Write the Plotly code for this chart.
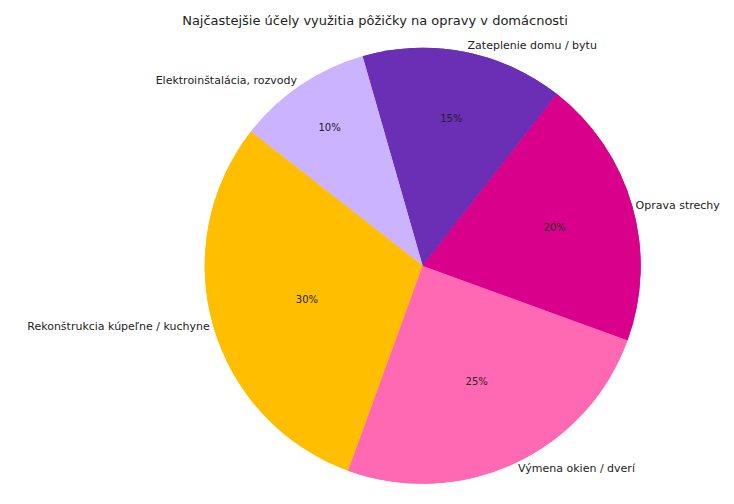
import plotly.graph_objects as go

labels = ["Zateplenie domu / bytu", "Elektroinštalácia, rozvody", "Rekonštrukcia kúpeľne / kuchyne", "Výmena okien / dverí", "Oprava strechy"]
values = [15, 10, 30, 25, 20]
colors = ["#6a2fb5", "#ccb3ff", "#ffbf00", "#ff69b4", "#d9008c"]

dom = dict(x=[0.268, 0.862], y=[0.056, 0.921])
fig = go.Figure()
fig.add_trace(go.Pie(labels=labels, values=values, sort=False, direction="counterclockwise",
                     rotation=-16, marker=dict(colors=colors), text=labels, textinfo="text",
                     textposition="outside", outsidetextfont=dict(size=11, color="#222"),
                     domain=dom, showlegend=False, hoverinfo="skip"))
fig.add_trace(go.Pie(labels=labels, values=values, sort=False, direction="counterclockwise",
                     rotation=-16, marker=dict(colors=colors), textinfo="percent",
                     texttemplate="%{percent:.0%}", textposition="inside",
                     insidetextorientation="horizontal", insidetextfont=dict(size=10, color="#222"),
                     domain=dom, showlegend=False))
fig.update_layout(width=734, height=504, margin=dict(l=0, r=0, t=0, b=0),
                  paper_bgcolor="white", font=dict(family="DejaVu Sans"),
                  title=dict(text="Najčastejšie účely využitia pôžičky na opravy v domácnosti",
                             x=0.5, y=0.985, xanchor="center", yanchor="top", font=dict(size=13, color="#222")))
fig.write_html("out.html")
